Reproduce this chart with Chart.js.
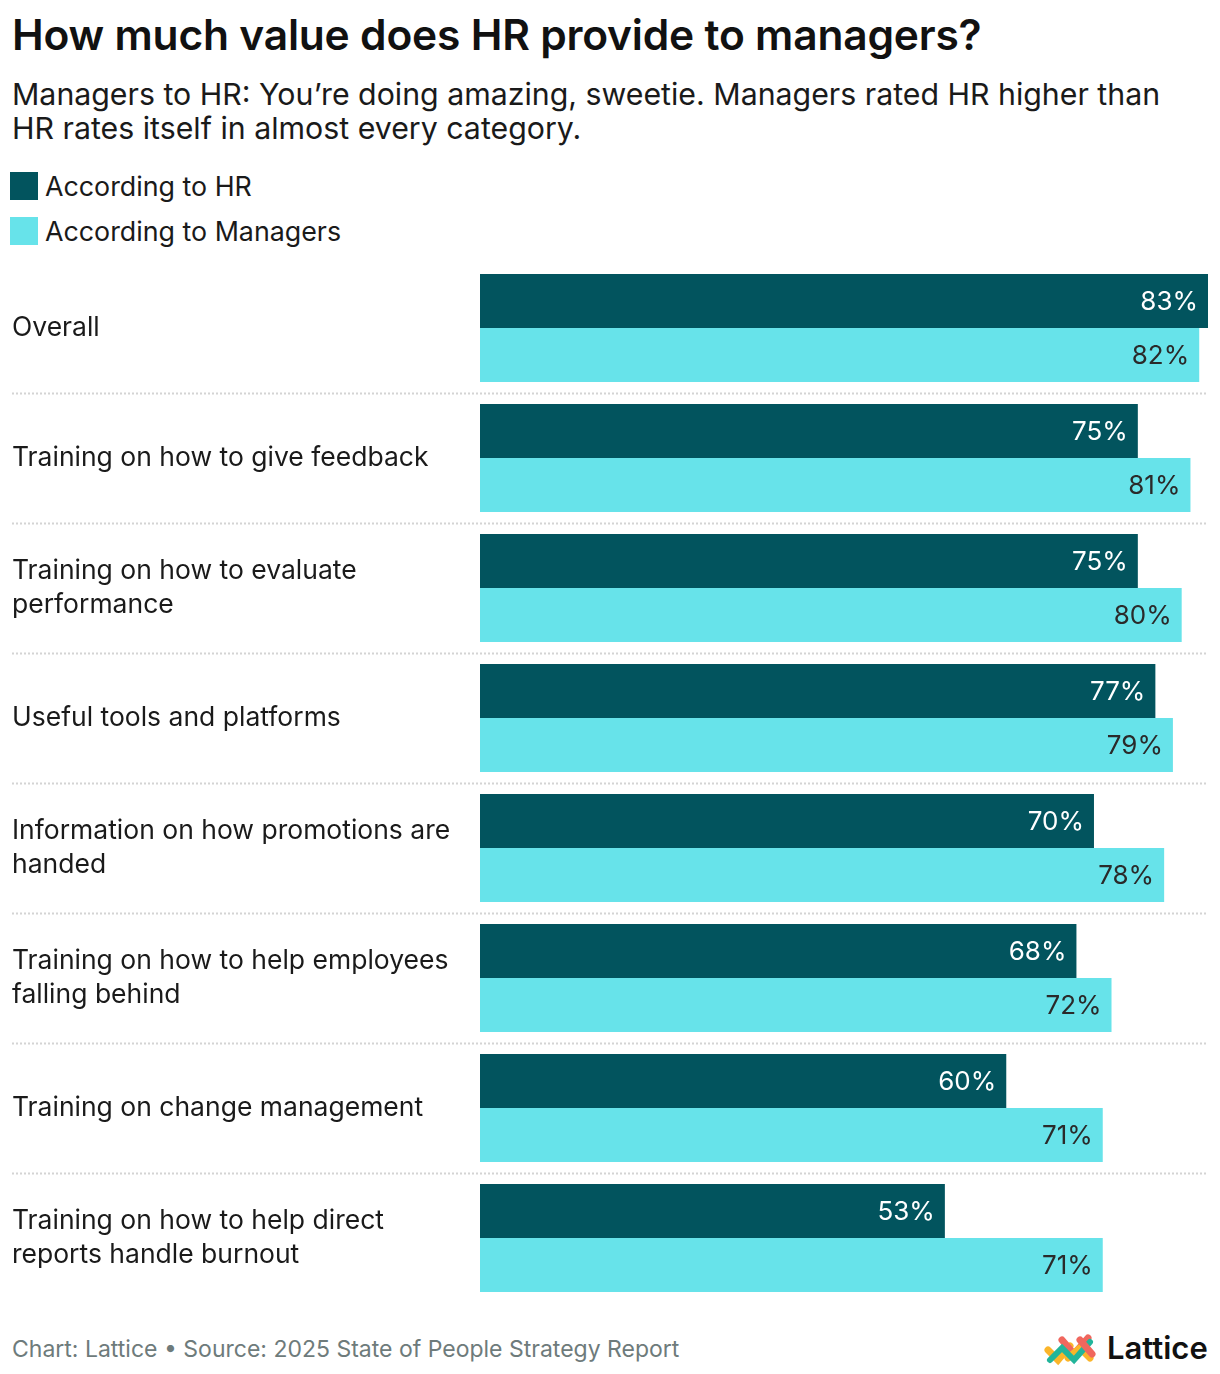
<!DOCTYPE html>
<html>
<head>
<meta charset="utf-8">
<script src="https://cdn.jsdelivr.net/npm/chart.js@4"></script>
<style>
  html,body{margin:0;padding:0;background:#fff;width:1220px;height:1374px;overflow:hidden;font-family:Inter,"Noto Sans",sans-serif;}
  #title{position:absolute;left:12px;top:9px;font-size:42.5px;font-weight:600;color:#111;letter-spacing:-0.2px;white-space:nowrap;}
  #sub{position:absolute;left:12px;top:77px;font-size:30.3px;line-height:34px;color:#1a1a1a;white-space:nowrap;}
  .leg{position:absolute;left:10px;font-size:26.8px;color:#1a1a1a;display:flex;align-items:center;white-space:nowrap;}
  .sw{width:28px;height:28px;margin-right:7px;}
  #wrap{position:absolute;left:0;top:263px;width:1220px;height:1040px;}
  #foot{position:absolute;left:12px;top:1335px;font-size:23px;color:#6e7b7b;white-space:nowrap;}
  #logo{position:absolute;left:1040px;top:1328px;}
</style>
</head>
<body>
<div id="title">How much value does HR provide to managers?</div>
<div id="sub">Managers to HR: You’re doing amazing, sweetie. Managers rated HR higher than<br>HR rates itself in almost every category.</div>
<div class="leg" style="top:170px;"><div class="sw" style="background:#02545e"></div>According to HR</div>
<div class="leg" style="top:215px;"><div class="sw" style="background:#67e3ea"></div>According to Managers</div>
<div id="wrap"><canvas id="c"></canvas></div>
<div id="foot">Chart: Lattice • Source: 2025 State of People Strategy Report</div>
<svg id="logo" width="180" height="42" viewBox="0 0 180 42">
  <g fill="none" stroke-linecap="round" stroke-width="7">
    <polyline points="8,22 18,32 30,18" stroke="#fbb52a"/>
    <polyline points="22,12 34,26 48,10" stroke="#f0675e"/>
    <polyline points="28,30 40,20 50,30" stroke="#fbb52a"/>
    <polyline points="10,32 22,20 34,32 50,14" stroke="#22b59b" stroke-width="6"/>
    <polyline points="40,12 52,26" stroke="#f0675e"/>
  </g>
  <text x="67" y="31" font-family="Inter, sans-serif" font-weight="600" font-size="31" fill="#111">Lattice</text>
</svg>
<script>
const categories = [
  "Overall",
  ["Training on how to give feedback"],
  ["Training on how to evaluate", "performance"],
  ["Useful tools and platforms"],
  ["Information on how promotions are", "handed"],
  ["Training on how to help employees", "falling behind"],
  ["Training on change management"],
  ["Training on how to help direct", "reports handle burnout"]
];
const hrValues = [83, 75, 75, 77, 70, 68, 60, 53];
const managerValues = [82, 81, 80, 79, 78, 72, 71, 71];
const seriesNames = ["According to HR", "According to Managers"];

const FONT = 'Inter, "Noto Sans", sans-serif';

const valueLabels = {
  id: 'valueLabels',
  afterDatasetsDraw(chart) {
    const ctx = chart.ctx;
    ctx.save();
    ctx.font = '26px ' + FONT;
    ctx.textAlign = 'right';
    ctx.textBaseline = 'middle';
    chart.data.datasets.forEach((ds, di) => {
      const meta = chart.getDatasetMeta(di);
      ctx.fillStyle = di === 0 ? '#ffffff' : '#2a2a2a';
      meta.data.forEach((bar, i) => {
        ctx.fillText(ds.data[i] + '%', bar.x - 10, bar.y + 1);
      });
    });
    ctx.restore();
  }
};

const separators = {
  id: 'separators',
  beforeDatasetsDraw(chart) {
    const ctx = chart.ctx;
    const ys = chart.scales.y;
    ctx.save();
    ctx.strokeStyle = '#d4d4d4';
    ctx.lineWidth = 2;
    ctx.setLineDash([2, 2]);
    for (let i = 1; i < categories.length; i++) {
      const y = Math.round((ys.getPixelForValue(i - 1) + ys.getPixelForValue(i)) / 2) + 0.5;
      ctx.beginPath();
      ctx.moveTo(12, y);
      ctx.lineTo(chart.chartArea.right, y);
      ctx.stroke();
    }
    ctx.restore();
  }
};

new Chart(document.getElementById('c'), {
  type: 'bar',
  data: {
    labels: categories,
    datasets: [
      { label: seriesNames[0], data: hrValues, backgroundColor: '#02545e', barPercentage: 1, categoryPercentage: 108/130 },
      { label: seriesNames[1], data: managerValues, backgroundColor: '#67e3ea', barPercentage: 1, categoryPercentage: 108/130 }
    ]
  },
  options: {
    indexAxis: 'y',
    responsive: true,
    maintainAspectRatio: false,
    animation: false,
    layout: { padding: { left: 12, right: 12, top: 0, bottom: 0 } },
    plugins: { legend: { display: false }, tooltip: { enabled: false } },
    scales: {
      x: { display: false, min: 0, max: 83 },
      y: {
        grid: { display: false },
        border: { display: false },
        ticks: {
          crossAlign: 'far',
          padding: 0,
          color: '#1a1a1a',
          font: { family: FONT, size: 26.5, lineHeight: 1.28 }
        },
        afterFit(scale) {
          scale.width = 468;
          scale.paddingTop = 0;
          scale.paddingBottom = 0;
        }
      }
    }
  },
  plugins: [separators, valueLabels]
});
</script>
</body>
</html>
